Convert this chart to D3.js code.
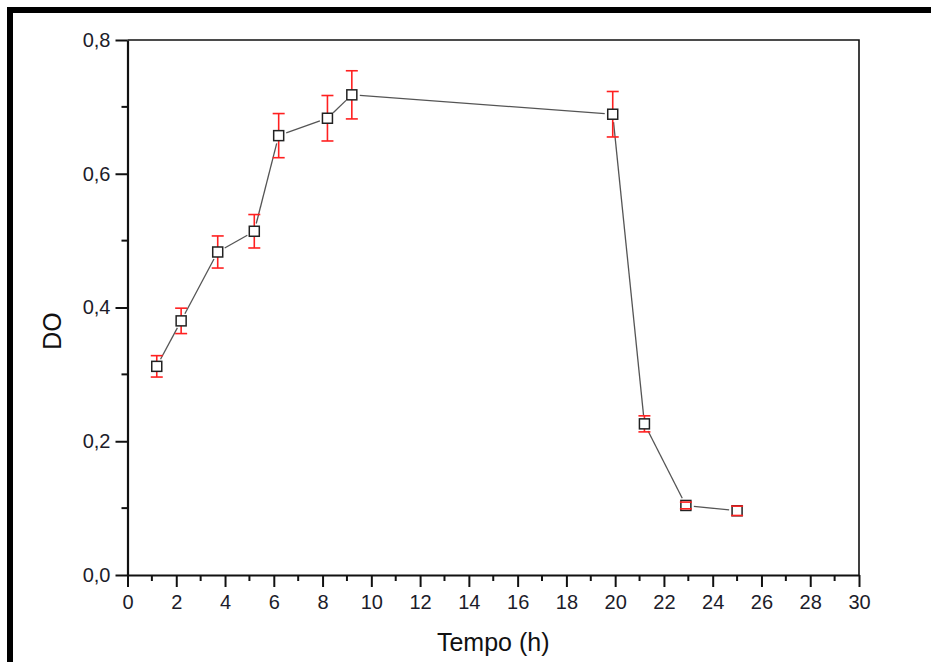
<!DOCTYPE html>
<html>
<head>
<meta charset="utf-8">
<script src="https://cdn.jsdelivr.net/npm/d3@7"></script>
<style>
  body { margin: 0; background: #fff; }
  text { font-family: "Liberation Sans", Arial, sans-serif; }
</style>
</head>
<body>
<svg id="svg" width="931" height="662"></svg>
<script>
// data
var tempo = [1.2, 2.2, 3.7, 5.2, 6.2, 8.2, 9.2, 19.9, 21.2, 22.9, 25.0];
var dO    = [0.312, 0.380, 0.483, 0.514, 0.657, 0.683, 0.718, 0.689, 0.226, 0.104, 0.096];
var erro  = [0.016, 0.019, 0.024, 0.025, 0.033, 0.034, 0.036, 0.034, 0.012, 0.005, 0.007];
var xTicks = [0, 2, 4, 6, 8, 10, 12, 14, 16, 18, 20, 22, 24, 26, 28, 30];
var yTicks = [0, 0.2, 0.4, 0.6, 0.8];

var svg = d3.select("#svg"),
    width = +svg.attr("width"),
    height = +svg.attr("height");

var pLeft = 127.5, pRight = 859, pTop = 40, pBottom = 575;

var x = d3.scaleLinear().domain([0, 30]).range([pLeft, pRight]);
var y = d3.scaleLinear().domain([0, 0.8]).range([pBottom, pTop]);

var fmt = function(d) { return d3.format(".1f")(d).replace(".", ","); };

// outer frame (top and left only)
svg.append("rect").attr("x", 7).attr("y", 7).attr("width", width - 7).attr("height", 6).attr("fill", "#000");
svg.append("rect").attr("x", 7).attr("y", 7).attr("width", 6).attr("height", height - 7).attr("fill", "#000");

// plot box top / right
svg.append("path")
    .attr("d", "M" + pLeft + "," + pTop + "H" + pRight + "V" + pBottom)
    .attr("fill", "none")
    .attr("stroke", "#111")
    .attr("stroke-width", 1.6);

// minor ticks
var xMinor = d3.range(1, 30, 2);
var yMinor = [0.1, 0.3, 0.5, 0.7];

var gx = svg.append("g").attr("transform", "translate(0," + pBottom + ")");
gx.call(d3.axisBottom(x).tickValues(xTicks).tickSize(12).tickSizeOuter(0).tickPadding(8).tickFormat(d3.format("d")));
gx.selectAll("line.minor").data(xMinor).enter().append("line")
    .attr("x1", function(d) { return x(d); }).attr("x2", function(d) { return x(d); })
    .attr("y1", 0).attr("y2", 6);

var gy = svg.append("g").attr("transform", "translate(" + pLeft + ",0)");
gy.call(d3.axisLeft(y).tickValues(yTicks).tickSize(12).tickSizeOuter(0).tickPadding(5).tickFormat(fmt));
gy.selectAll("line.minor").data(yMinor).enter().append("line")
    .attr("y1", function(d) { return y(d); }).attr("y2", function(d) { return y(d); })
    .attr("x1", 0).attr("x2", -6);

svg.selectAll(".domain").attr("stroke", "#111").attr("stroke-width", 2.2);
svg.selectAll("g line").attr("stroke", "#111").attr("stroke-width", 2);
svg.selectAll(".tick text").attr("font-size", 20).attr("fill", "#1c1c2a")
    .attr("font-family", "'Liberation Sans', Arial, sans-serif");

// axis titles
svg.append("text")
    .attr("x", (pLeft + pRight) / 2)
    .attr("y", 651)
    .attr("text-anchor", "middle")
    .attr("font-size", 25)
    .attr("fill", "#111")
    .text("Tempo (h)");

svg.append("text")
    .attr("transform", "translate(61,331) rotate(-90)")
    .attr("text-anchor", "middle")
    .attr("font-size", 25)
    .attr("fill", "#111")
    .text("DO");

var pts = tempo.map(function(t, i) { return { t: t, v: dO[i], e: erro[i] }; });
var half = 5;

// connecting line, with small gaps at each symbol
var gap = 8;
var segs = d3.pairs(pts);
svg.append("g").selectAll("line").data(segs).enter().append("line")
    .each(function(d) {
      var x1 = x(d[0].t), y1 = y(d[0].v), x2 = x(d[1].t), y2 = y(d[1].v);
      var len = Math.hypot(x2 - x1, y2 - y1), ux = (x2 - x1) / len, uy = (y2 - y1) / len;
      d3.select(this)
        .attr("x1", x1 + ux * gap).attr("y1", y1 + uy * gap)
        .attr("x2", x2 - ux * gap).attr("y2", y2 - uy * gap);
    })
    .attr("stroke", "#555")
    .attr("stroke-width", 1.3);

// error bar stems (outside the symbol only)
var eb = svg.append("g").attr("stroke", "#ff2020").attr("stroke-width", 1.6);
eb.selectAll("line.up").data(pts).enter().append("line")
    .attr("x1", function(d) { return x(d.t); }).attr("x2", function(d) { return x(d.t); })
    .attr("y1", function(d) { return y(d.v + d.e); })
    .attr("y2", function(d) { return Math.max(y(d.v + d.e), y(d.v) - half); });
eb.selectAll("line.dn").data(pts).enter().append("line")
    .attr("x1", function(d) { return x(d.t); }).attr("x2", function(d) { return x(d.t); })
    .attr("y1", function(d) { return Math.min(y(d.v - d.e), y(d.v) + half); })
    .attr("y2", function(d) { return y(d.v - d.e); });

// square symbols
svg.append("g").selectAll("rect").data(pts).enter().append("rect")
    .attr("x", function(d) { return x(d.t) - half; })
    .attr("y", function(d) { return y(d.v) - half; })
    .attr("width", half * 2).attr("height", half * 2)
    .attr("fill", "#fff")
    .attr("stroke", "#222")
    .attr("stroke-width", 1.5);

// error bar caps on top
var caps = svg.append("g").attr("stroke", "#ff2020").attr("stroke-width", 1.6);
caps.selectAll("line.top").data(pts).enter().append("line")
    .attr("x1", function(d) { return x(d.t) - 6; }).attr("x2", function(d) { return x(d.t) + 6; })
    .attr("y1", function(d) { return y(d.v + d.e); }).attr("y2", function(d) { return y(d.v + d.e); });
caps.selectAll("line.bot").data(pts).enter().append("line")
    .attr("x1", function(d) { return x(d.t) - 6; }).attr("x2", function(d) { return x(d.t) + 6; })
    .attr("y1", function(d) { return y(d.v - d.e); }).attr("y2", function(d) { return y(d.v - d.e); });
</script>
</body>
</html>
